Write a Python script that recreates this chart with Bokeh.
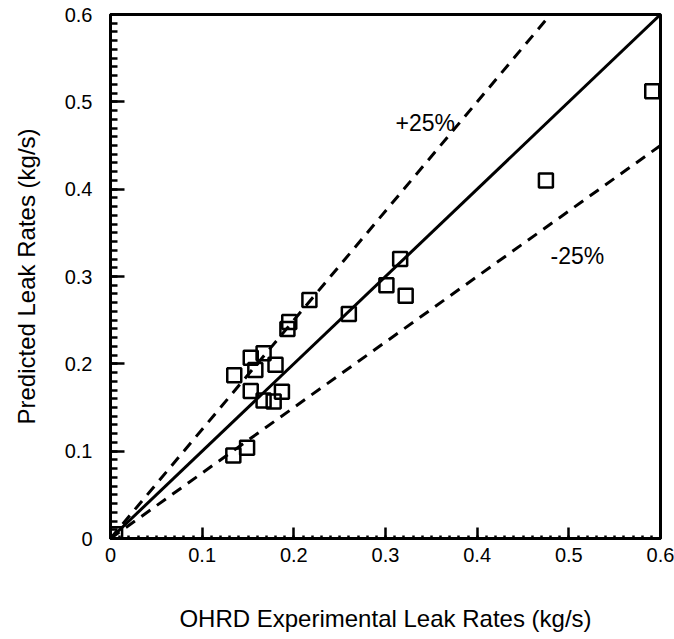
from bokeh.plotting import figure
from bokeh.models import ColumnDataSource, FixedTicker, NumeralTickFormatter, Range1d
from bokeh.core.properties import value
from bokeh.embed import file_html
from bokeh.resources import INLINE

# Data
experimental = [0.005, 0.134, 0.149, 0.135, 0.153, 0.158, 0.167, 0.180, 0.153, 0.167, 0.178, 0.187,
                0.193, 0.195, 0.217, 0.260, 0.301, 0.316, 0.322, 0.475, 0.591]
predicted = [0.005, 0.095, 0.104, 0.187, 0.207, 0.193, 0.212, 0.199, 0.169, 0.158, 0.157, 0.168,
             0.240, 0.248, 0.273, 0.257, 0.290, 0.320, 0.278, 0.410, 0.512]

line_x = [0.0, 0.6]
ideal_y = [0.0, 0.6]
plus_x = [0.0, 0.48]
plus_y = [0.0, 0.6]
minus_x = [0.0, 0.6]
minus_y = [0.0, 0.45]

label_text = ["+25%", "-25%"]
label_x = [0.311, 0.480]
label_y = [0.476, 0.324]

tick_values = [0, 0.1, 0.2, 0.3, 0.4, 0.5, 0.6]
minor_tick_values = [i / 100 for i in range(61)]

FONT = "Liberation Sans"

p = figure(width=674, height=639, output_backend="svg", toolbar_location=None,
           x_range=Range1d(0, 0.6), y_range=Range1d(0, 0.6),
           min_border_left=110, min_border_right=14, min_border_top=14, min_border_bottom=101)

p.xgrid.visible = False
p.ygrid.visible = False
p.outline_line_color = "black"
p.outline_line_width = 3
p.background_fill_color = "white"
p.border_fill_color = "white"

for ax in (p.xaxis[0], p.yaxis[0]):
    ax.ticker = FixedTicker(ticks=tick_values, minor_ticks=minor_tick_values)
    ax.formatter = NumeralTickFormatter(format="0.[0]")
    ax.axis_line_width = 3
    ax.axis_line_color = "black"
    ax.major_tick_out = 0
    ax.minor_tick_out = 0
    ax.major_tick_line_width = 2.5
    ax.minor_tick_line_width = 2.5
    ax.major_tick_line_color = "black"
    ax.minor_tick_line_color = "black"
    ax.major_label_text_font = FONT
    ax.major_label_text_font_size = "20px"
    ax.major_label_text_color = "black"
    ax.axis_label_text_font = FONT
    ax.axis_label_text_font_size = "24px"
    ax.axis_label_text_font_style = "normal"
    ax.axis_label_text_color = "black"

p.yaxis.major_tick_in = 14
p.yaxis.minor_tick_in = 7
p.xaxis.major_tick_in = 11
p.xaxis.minor_tick_in = 3

p.xaxis.axis_label = "OHRD Experimental Leak Rates (kg/s)"
p.yaxis.axis_label = "Predicted Leak Rates (kg/s)"
p.xaxis.major_label_standoff = 9
p.yaxis.major_label_standoff = 18
p.xaxis.axis_label_standoff = 40
p.yaxis.axis_label_standoff = 22

p.line(line_x, ideal_y, line_color="black", line_width=3)
p.line(plus_x, plus_y, line_color="black", line_width=3, line_dash="11 8")
p.line(minus_x, minus_y, line_color="black", line_width=3, line_dash="11 8")

src = ColumnDataSource(dict(x=experimental, y=predicted))
p.scatter("x", "y", source=src, marker="square", size=14, fill_alpha=0,
          line_color="black", line_width=2.5)

lab = ColumnDataSource(dict(x=label_x, y=label_y, t=label_text))
p.text("x", "y", text="t", source=lab, text_font=value(FONT), text_font_size="23px",
       text_color="black", text_align="left", text_baseline="alphabetic")

open("out.html", "w").write(file_html(p, INLINE))
